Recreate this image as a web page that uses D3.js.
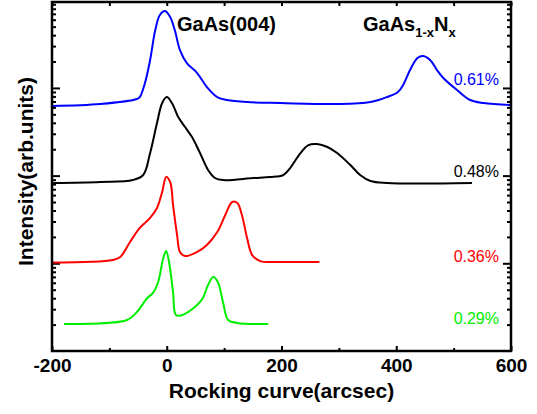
<!DOCTYPE html>
<html>
<head>
<meta charset="utf-8">
<script src="https://cdn.jsdelivr.net/npm/d3@7"></script>
<style>
  body { margin: 0; background: #fff; }
  svg { display: block; font-family: Arial, "Liberation Sans", sans-serif; }
</style>
</head>
<body>
<div id="chart"></div>
<script>
// rocking curve data, x in arcsec, intensity on log axis
const blueX = [-200,-116,-52,-47,-38,-29,-20,-12,-3,6,14,23,35,53,70,88,105,140,198,297,355,384,403,412,424,437,447,459,471,482,506,529,552,599];
const blueY = [622,655,747,787,1138,2080,4571,6780,7530,6430,4571,2705,1923,1479,1023,787,728,690,673,655,690,787,898,1079,1600,2193,2310,2080,1600,1297,946,728,673,638];

const blackX = [-200,-116,-59,-41,-29,-17,-8,0,9,20,32,44,58,72,84,98,151,180,203,215,233,247,262,280,297,320,337,355,384,532];
const blackY = [82.4,84.6,89.1,101.6,181,398,673,787,673,466,358,275,181,116,94,89,94,96.4,101.6,122,181,223,229,212,181,132,101.6,86.8,82.4,82.4];

const redX = [-200,-94,-81,-64,-47,-29,-17,-8,-1,6,11,18,23,32,53,70,88,102,114,123,131,140,149,163,198,266];
const redY = [10.2,10.9,11.8,17.5,25.3,32.9,42.7,65,96.4,84.6,46.2,21.0,13.5,12.1,13.5,16.2,22.7,35.6,50,48.7,35.6,19.4,12.4,10.6,10.35,10.35];

const greenX = [-179,-69,-52,-34,-24,-15,-6,-1,4,11,16,27,37,53,63,72,81,89,98,107,123,177];
const greenY = [2.03,2.26,2.78,4.02,4.59,6.12,11.5,13.8,10.35,4.71,2.57,2.57,2.78,3.35,4.02,5.66,6.98,6.12,3.62,2.26,2.09,2.03];

const seriesLabels = ["0.61%", "0.48%", "0.36%", "0.29%"];
const seriesColors = ["#0000ff", "#000000", "#ff0000", "#00ee00"];
const xTicks = [-200, 0, 200, 400, 600];
const xMinorTicks = [-100, 100, 300, 500];

const width = 537, height = 414;
const margin = { top: 2, right: 26, bottom: 63, left: 52 };
const plotW = width - margin.left - margin.right;
const plotH = height - margin.top - margin.bottom;

const svg = d3.select('#chart').append('svg')
  .attr('width', width)
  .attr('height', height);

const g = svg.append('g')
  .attr('transform', `translate(${margin.left},${margin.top})`);

const x = d3.scaleLinear().domain([-200, 600]).range([0, plotW]);
const y = d3.scaleLog().domain([1, 9550]).range([plotH, 0]);

// log ticks: majors at decades, minors at 2..9
const yMajor = [], yMinor = [];
for (let d = 0; d < 4; d++) {
  for (let k = 1; k <= 9; k++) {
    const v = k * Math.pow(10, d);
    if (v > 9550) continue;
    if (k === 1) { if (d > 0) yMajor.push(v); } else yMinor.push(v);
  }
}

const styleAxis = (sel) => {
  sel.select('.domain').remove();
  sel.selectAll('line').attr('stroke', '#000').attr('stroke-width', 2);
};

// bottom axis
g.append('g').attr('transform', `translate(0,${plotH})`)
  .call(d3.axisBottom(x).tickValues(xTicks).tickSizeInner(-5).tickSizeOuter(0).tickPadding(8).tickFormat(d => String(d)))
  .call(styleAxis)
  .selectAll('text').attr('font-size', 19).attr('font-weight', 'bold').attr('fill', '#000')
  .attr('font-family', 'Arial, "Liberation Sans", sans-serif');
g.append('g').attr('transform', `translate(0,${plotH})`)
  .call(d3.axisBottom(x).tickValues(xMinorTicks).tickSizeInner(-3).tickSizeOuter(0).tickFormat(''))
  .call(styleAxis);

// top axis
g.append('g')
  .call(d3.axisTop(x).tickValues(xTicks.concat(xMinorTicks)).tickSizeInner(-4).tickSizeOuter(0).tickFormat(''))
  .call(styleAxis);

// left and right axes
[[d3.axisLeft, 0], [d3.axisRight, plotW]].forEach(([ax, tx]) => {
  g.append('g').attr('transform', `translate(${tx},0)`)
    .call(ax(y).tickValues(yMajor).tickSizeInner(-8).tickSizeOuter(0).tickFormat(''))
    .call(styleAxis);
  g.append('g').attr('transform', `translate(${tx},0)`)
    .call(ax(y).tickValues(yMinor).tickSizeInner(-4).tickSizeOuter(0).tickFormat(''))
    .call(styleAxis);
});

// curves
const line = d3.line()
  .x(d => x(d[0]))
  .y(d => y(d[1]))
  .curve(d3.curveCatmullRom.alpha(0.5));

const allSeries = [
  d3.zip(blueX, blueY),
  d3.zip(blackX, blackY),
  d3.zip(redX, redY),
  d3.zip(greenX, greenY)
];

g.selectAll('.curve')
  .data(allSeries)
  .enter()
  .append('path')
  .attr('class', 'curve')
  .attr('fill', 'none')
  .attr('stroke', (d, i) => seriesColors[i])
  .attr('stroke-width', 2)
  .attr('d', line);

// frame
g.append('rect')
  .attr('width', plotW).attr('height', plotH)
  .attr('fill', 'none').attr('stroke', '#000').attr('stroke-width', 2.5);

// series labels
const labelBase = [83, 175, 260, 322];
g.selectAll('.lab')
  .data(seriesLabels)
  .enter()
  .append('text')
  .attr('x', x(500))
  .attr('y', (d, i) => labelBase[i])
  .attr('font-size', 16)
  .attr('fill', (d, i) => seriesColors[i])
  .text(d => d);

// annotations
g.append('text')
  .attr('x', 125).attr('y', 29)
  .attr('font-size', 20).attr('font-weight', 'bold')
  .text('GaAs(004)');

const comp = g.append('text')
  .attr('x', 311).attr('y', 29)
  .attr('font-size', 20).attr('font-weight', 'bold');
comp.append('tspan').text('GaAs');
comp.append('tspan').attr('font-size', 13).attr('dy', 6).text('1-x');
comp.append('tspan').attr('dy', -6).text('N');
comp.append('tspan').attr('font-size', 13).attr('dy', 6).text('x');

// axis titles
svg.append('text')
  .attr('x', margin.left + plotW / 2).attr('y', 398)
  .attr('text-anchor', 'middle')
  .attr('font-size', 21).attr('font-weight', 'bold')
  .text('Rocking curve(arcsec)');

svg.append('text')
  .attr('transform', `translate(33,${margin.top + plotH / 2 - 5}) rotate(-90)`)
  .attr('text-anchor', 'middle')
  .attr('font-size', 21).attr('font-weight', 'bold')
  .text('Intensity(arb.units)');
</script>
</body>
</html>
